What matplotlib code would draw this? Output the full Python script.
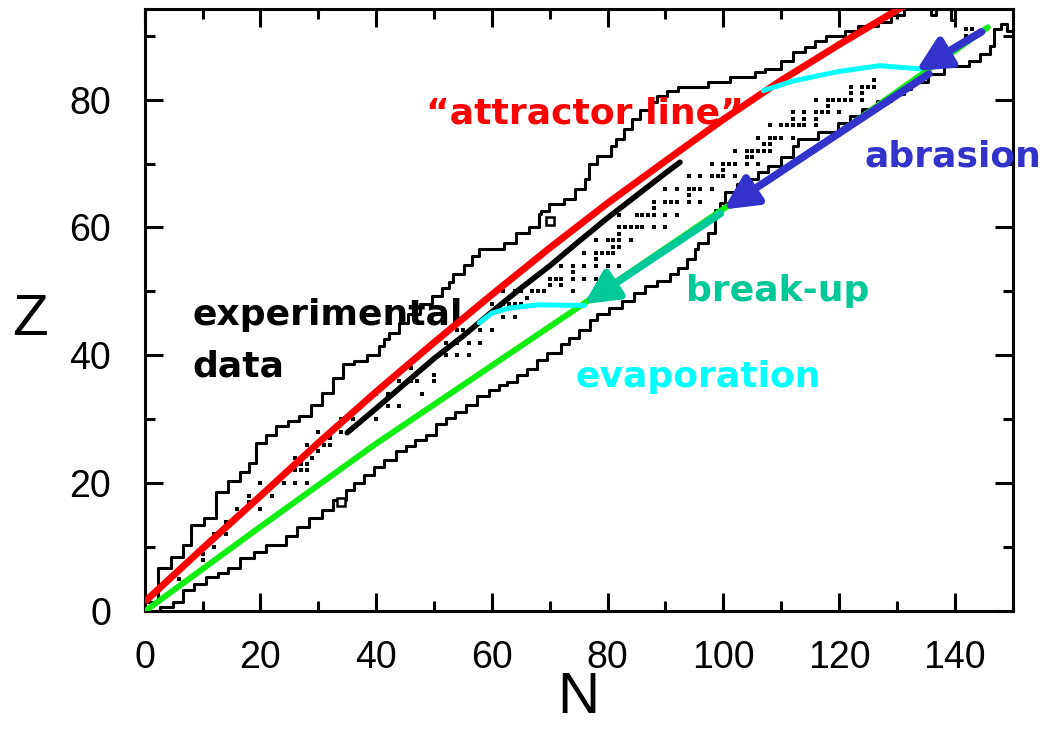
import matplotlib
matplotlib.use("Agg")
import matplotlib.pyplot as plt
from matplotlib.ticker import MultipleLocator

# upper edge of the known-nuclei band (step corners, N then Z)
up_N = [0.3, 2.3, 4.6, 6.6, 8.0, 10.3, 12.4, 14.4, 16.4, 18.1,
        19.3, 21.0, 22.7, 24.7, 26.7, 28.7, 30.7, 32.5, 34.2, 36.2,
        38.5, 40.5, 41.4, 42.2, 43.9, 45.5, 47.5, 49.7, 51.4, 52.6,
        53.2, 55.2, 56.6, 57.8, 62.1, 64.1, 66.4, 68.1, 68.5, 69.8,
        72.4, 74.4, 76.1, 76.8, 78.2, 80.5, 81.5, 82.8, 84.2, 85.6,
        87.6, 88.5, 90.2, 92.2, 97.3, 101.1, 105.4, 107.2, 110.0, 112.1,
        114.1, 115.8, 117.8, 121.0, 123.3, 126.7, 129.0, 131.3, 135.9, 136.8,
        139.4, 140.0, 141.0]
up_Z = [1.5, 6.7, 8.5, 10.3, 13.5, 14.5, 18.7, 20.3, 21.8, 23.1,
        26.3, 27.6, 29.0, 29.8, 30.5, 32.3, 34.1, 36.5, 38.6, 39.1,
        40.1, 41.4, 42.5, 43.5, 45.1, 46.5, 48.0, 49.3, 50.5, 51.4,
        52.7, 54.2, 55.6, 56.6, 57.6, 59.2, 60.0, 62.1, 62.6, 63.6,
        64.4, 66.0, 67.6, 69.9, 71.2, 72.7, 73.8, 75.4, 76.9, 78.3,
        79.6, 80.6, 81.4, 81.9, 82.7, 83.5, 84.3, 84.8, 86.1, 87.4,
        88.2, 89.2, 90.0, 90.8, 91.5, 92.1, 93.2, 94.2, 93.2, 94.2,
        92.5, 94.2, 96.0]

# lower edge of the band
lo_N = [0.5, 2.6, 4.9, 6.6, 8.6, 10.6, 12.6, 14.4, 16.4, 18.9,
        21.0, 24.4, 26.4, 28.4, 30.7, 32.5, 34.8, 36.2, 37.9, 39.6,
        41.4, 43.4, 45.1, 46.8, 48.6, 50.3, 52.0, 53.7, 55.5, 57.5,
        59.5, 61.2, 62.6, 64.4, 66.1, 67.8, 69.6, 71.9, 73.3, 75.0,
        77.0, 78.2, 80.2, 82.5, 84.5, 86.5, 88.5, 90.8, 92.2, 93.7,
        95.1, 95.7, 97.4, 98.5, 99.4, 100.3, 102.3, 104.0, 106.0, 107.7,
        110.0, 112.0, 112.9, 116.4, 119.8, 121.8, 124.0, 126.5, 129.0, 131.3,
        132.5, 135.3, 138.2, 142.5, 144.3, 146.0, 146.8, 148.0, 149.1, 150.5]
lo_Z = [0.0, 0.6, 1.5, 3.3, 4.3, 5.4, 5.9, 6.7, 8.3, 9.3,
        10.3, 11.7, 13.2, 14.5, 15.8, 17.4, 18.9, 20.0, 21.3, 22.6,
        23.7, 25.0, 25.8, 26.8, 27.6, 29.2, 30.2, 31.2, 32.3, 33.6,
        34.6, 35.4, 35.9, 36.9, 37.8, 39.3, 40.4, 41.7, 42.7, 44.0,
        45.6, 46.4, 47.4, 48.5, 49.7, 50.8, 51.6, 52.7, 53.7, 55.0,
        56.6, 57.6, 59.2, 62.8, 63.9, 65.5, 66.8, 67.6, 68.6, 69.6,
        71.0, 72.7, 73.8, 74.9, 76.4, 77.5, 78.5, 79.8, 80.8, 81.7,
        82.7, 84.0, 85.3, 86.1, 87.2, 88.4, 91.1, 91.8, 90.8, 90.8]

# measured fragments (N, Z)
dot_N = [6, 10, 10, 12, 12, 14, 14, 16, 18, 18, 20, 20, 20, 22, 24, 26, 27, 28,
         26, 28, 27, 28, 29, 30, 26, 28, 30, 31, 32, 32, 34, 34, 36, 40, 42, 44,
         40, 42, 44, 46, 46, 47, 48, 50, 50, 52, 52, 54, 56, 54, 56, 58, 54, 55,
         58, 60, 62, 64, 60, 62, 63, 64, 65, 63, 66, 62, 64, 65, 67, 68, 69, 70,
         72, 74, 70, 71, 72, 74, 76, 78, 72, 74, 76, 78, 80, 82, 74, 76, 78, 79,
         80, 81, 78, 78, 80, 81, 82, 84, 81, 82, 82, 82, 83, 84, 85, 86, 88, 90,
         82, 85, 86, 87, 88, 90, 92, 88, 88, 90, 91, 92, 94, 96, 90, 92, 94, 95,
         96, 98, 94, 94, 96, 98, 99, 100, 102, 98, 100, 101, 102, 104, 106, 100,
         104, 105, 102, 104, 105, 106, 107, 108, 106, 108, 109, 110, 112, 107, 108,
         108, 110, 111, 112, 113, 114, 112, 114, 114, 112, 116, 117, 118, 120, 116,
         116, 116, 118, 119, 120, 121, 122, 118, 122, 122, 124, 124, 125, 126, 126,
         124, 142, 143, 142]
dot_Z = [5, 8, 9, 10, 12, 12, 14, 16, 17, 18, 16, 18, 20, 18, 20, 20, 22, 20,
         22, 22, 23, 23, 24, 25, 24, 26, 28, 26, 26, 27, 28, 30, 30, 30, 32, 32,
         34, 34, 36, 36, 38, 36, 34, 36, 37, 40, 42, 40, 40, 42, 42, 42, 44, 44,
         44, 44, 46, 46, 48, 48, 48, 48, 48, 49, 49, 50, 50, 50, 50, 50, 50, 51,
         51, 50, 52, 52, 52, 52, 52, 52, 54, 54, 54, 54, 54, 54, 53, 56, 56, 56,
         56, 56, 55, 58, 58, 58, 58, 58, 57, 57, 59, 60, 60, 60, 60, 60, 60, 60,
         62, 62, 62, 62, 62, 62, 62, 63, 64, 64, 64, 64, 64, 64, 66, 66, 66, 66,
         66, 66, 65, 68, 68, 68, 68, 68, 68, 70, 70, 70, 70, 70, 70, 69,
         71, 71, 72, 72, 72, 72, 72, 72, 74, 74, 74, 74, 74, 73, 73,
         76, 76, 76, 76, 76, 76, 78, 78, 77, 77, 78, 78, 78, 78, 77,
         76, 80, 80, 80, 80, 80, 80, 79, 81, 82, 81, 82, 82, 82, 83,
         80, 91, 91, 90]

# isolated nuclei drawn as open boxes
box_N = [34, 70]
box_Z = [17, 61]

# curves
red_N = [0.3, 10, 20, 30, 40, 50, 60, 70, 80, 90, 100, 110, 120, 131.5]
red_Z = [1.7, 9.8, 18.0, 26.3, 34.3, 42.0, 49.5, 56.8, 63.8, 70.4, 76.9, 83.0, 88.6, 94.8]
grn_N = [0.5, 20, 40, 60, 80, 100, 120, 145.7]
grn_Z = [0.3, 13.2, 26.2, 38.4, 50.6, 62.9, 74.8, 91.3]
blk_N = [35, 40, 45, 50, 55, 60, 65, 70, 75, 80, 85, 90, 92.5]
blk_Z = [27.9, 31.7, 35.6, 39.5, 43.0, 46.8, 50.5, 54.0, 57.8, 61.5, 65.0, 68.5, 70.2]
cy1_N = [106.9, 112, 120, 127, 134]
cy1_Z = [81.4, 82.9, 84.4, 85.3, 84.8]
cy2_N = [57.8, 60, 63, 68, 76]
cy2_Z = [45.1, 46.6, 47.4, 47.9, 47.8]

# arrows: (tail N, tail Z, tip N, tip Z)
abr1 = (144.6, 90.6, 133.3, 84.5)
abr2 = (135.5, 84.0, 100.0, 62.8)
brk = (99.5, 62.2, 75.9, 48.0)

RED = "#ff0000"
GRN = "#11ee11"
BLUE = "#3333cc"
TEAL = "#00c896"
CYAN = "#00ffff"

fig = plt.figure(figsize=(10.56, 7.31), dpi=100)
ax = fig.add_axes([0.137, 0.164, 0.822, 0.824])

ax.plot(up_N, up_Z, drawstyle="steps-post", color="black", lw=2.2, zorder=2)
ax.plot(lo_N, lo_Z, drawstyle="steps-post", color="black", lw=2.2, zorder=2)
ax.plot(dot_N, dot_Z, "s", color="black", ms=3.4, mew=0, zorder=2)
ax.plot(box_N, box_Z, "s", mfc="white", mec="black", ms=6, mew=1.8, zorder=2)

ax.plot(grn_N, grn_Z, color=GRN, lw=4.3, solid_capstyle="round", zorder=3)
ax.plot(red_N, red_Z, color=RED, lw=5, solid_capstyle="round", zorder=4)
ax.plot(blk_N, blk_Z, color="black", lw=4, solid_capstyle="round", zorder=4)
ax.plot(cy1_N, cy1_Z, color=CYAN, lw=3.6, solid_capstyle="round", zorder=4)
ax.plot(cy2_N, cy2_Z, color=CYAN, lw=3.6, solid_capstyle="round", zorder=4)

for arr, col in [(brk, TEAL), (abr2, BLUE), (abr1, BLUE)]:
    ax.annotate("", xy=(arr[2], arr[3]), xytext=(arr[0], arr[1]),
                arrowprops=dict(arrowstyle="-|>,head_length=1.0,head_width=0.5",
                                color=col, lw=5.5, mutation_scale=20,
                                shrinkA=0, shrinkB=0),
                zorder=5)

tfont = dict(family="DejaVu Sans", weight="bold", size=26)
ax.text(48.6, 76.2, "\u201cattractor line\u201d", color=RED, va="baseline", **tfont)
ax.text(8.2, 44.8, "experimental", color="black", va="baseline", **tfont)
ax.text(8.2, 36.7, "data", color="black", va="baseline", **tfont)
ax.text(93.6, 48.5, "break-up", color=TEAL, va="baseline", **tfont)
ax.text(74.4, 35.1, "evaporation", color=CYAN, va="baseline", **tfont)
ax.text(124.4, 69.6, "abrasion", color=BLUE, va="baseline", clip_on=False,
        zorder=10, **tfont)

ax.set_xlim(0, 150)
ax.set_ylim(0, 94.2)

nfont = "Liberation Sans"
ax.xaxis.set_major_locator(MultipleLocator(20))
ax.xaxis.set_minor_locator(MultipleLocator(10))
ax.yaxis.set_major_locator(MultipleLocator(20))
ax.yaxis.set_minor_locator(MultipleLocator(10))
ax.tick_params(which="both", direction="in", top=True, right=True, width=2.2)
ax.tick_params(which="major", length=13, pad=21, labelsize=27)
ax.tick_params(which="minor", length=7.5)
ax.tick_params(axis="y", which="major", pad=24)
for lab in ax.get_xticklabels() + ax.get_yticklabels():
    lab.set_family(nfont)
for sp in ax.spines.values():
    sp.set_linewidth(2.2)

# axis titles placed like the original
fig.text(30 / 1056, 1 - 320 / 731, "Z", family=nfont, fontsize=42,
         ha="center", va="center")
fig.text(578 / 1056, 1 - 698 / 731, "N", family=nfont, fontsize=42,
         ha="center", va="center")

fig.savefig("out.png", dpi=100)
